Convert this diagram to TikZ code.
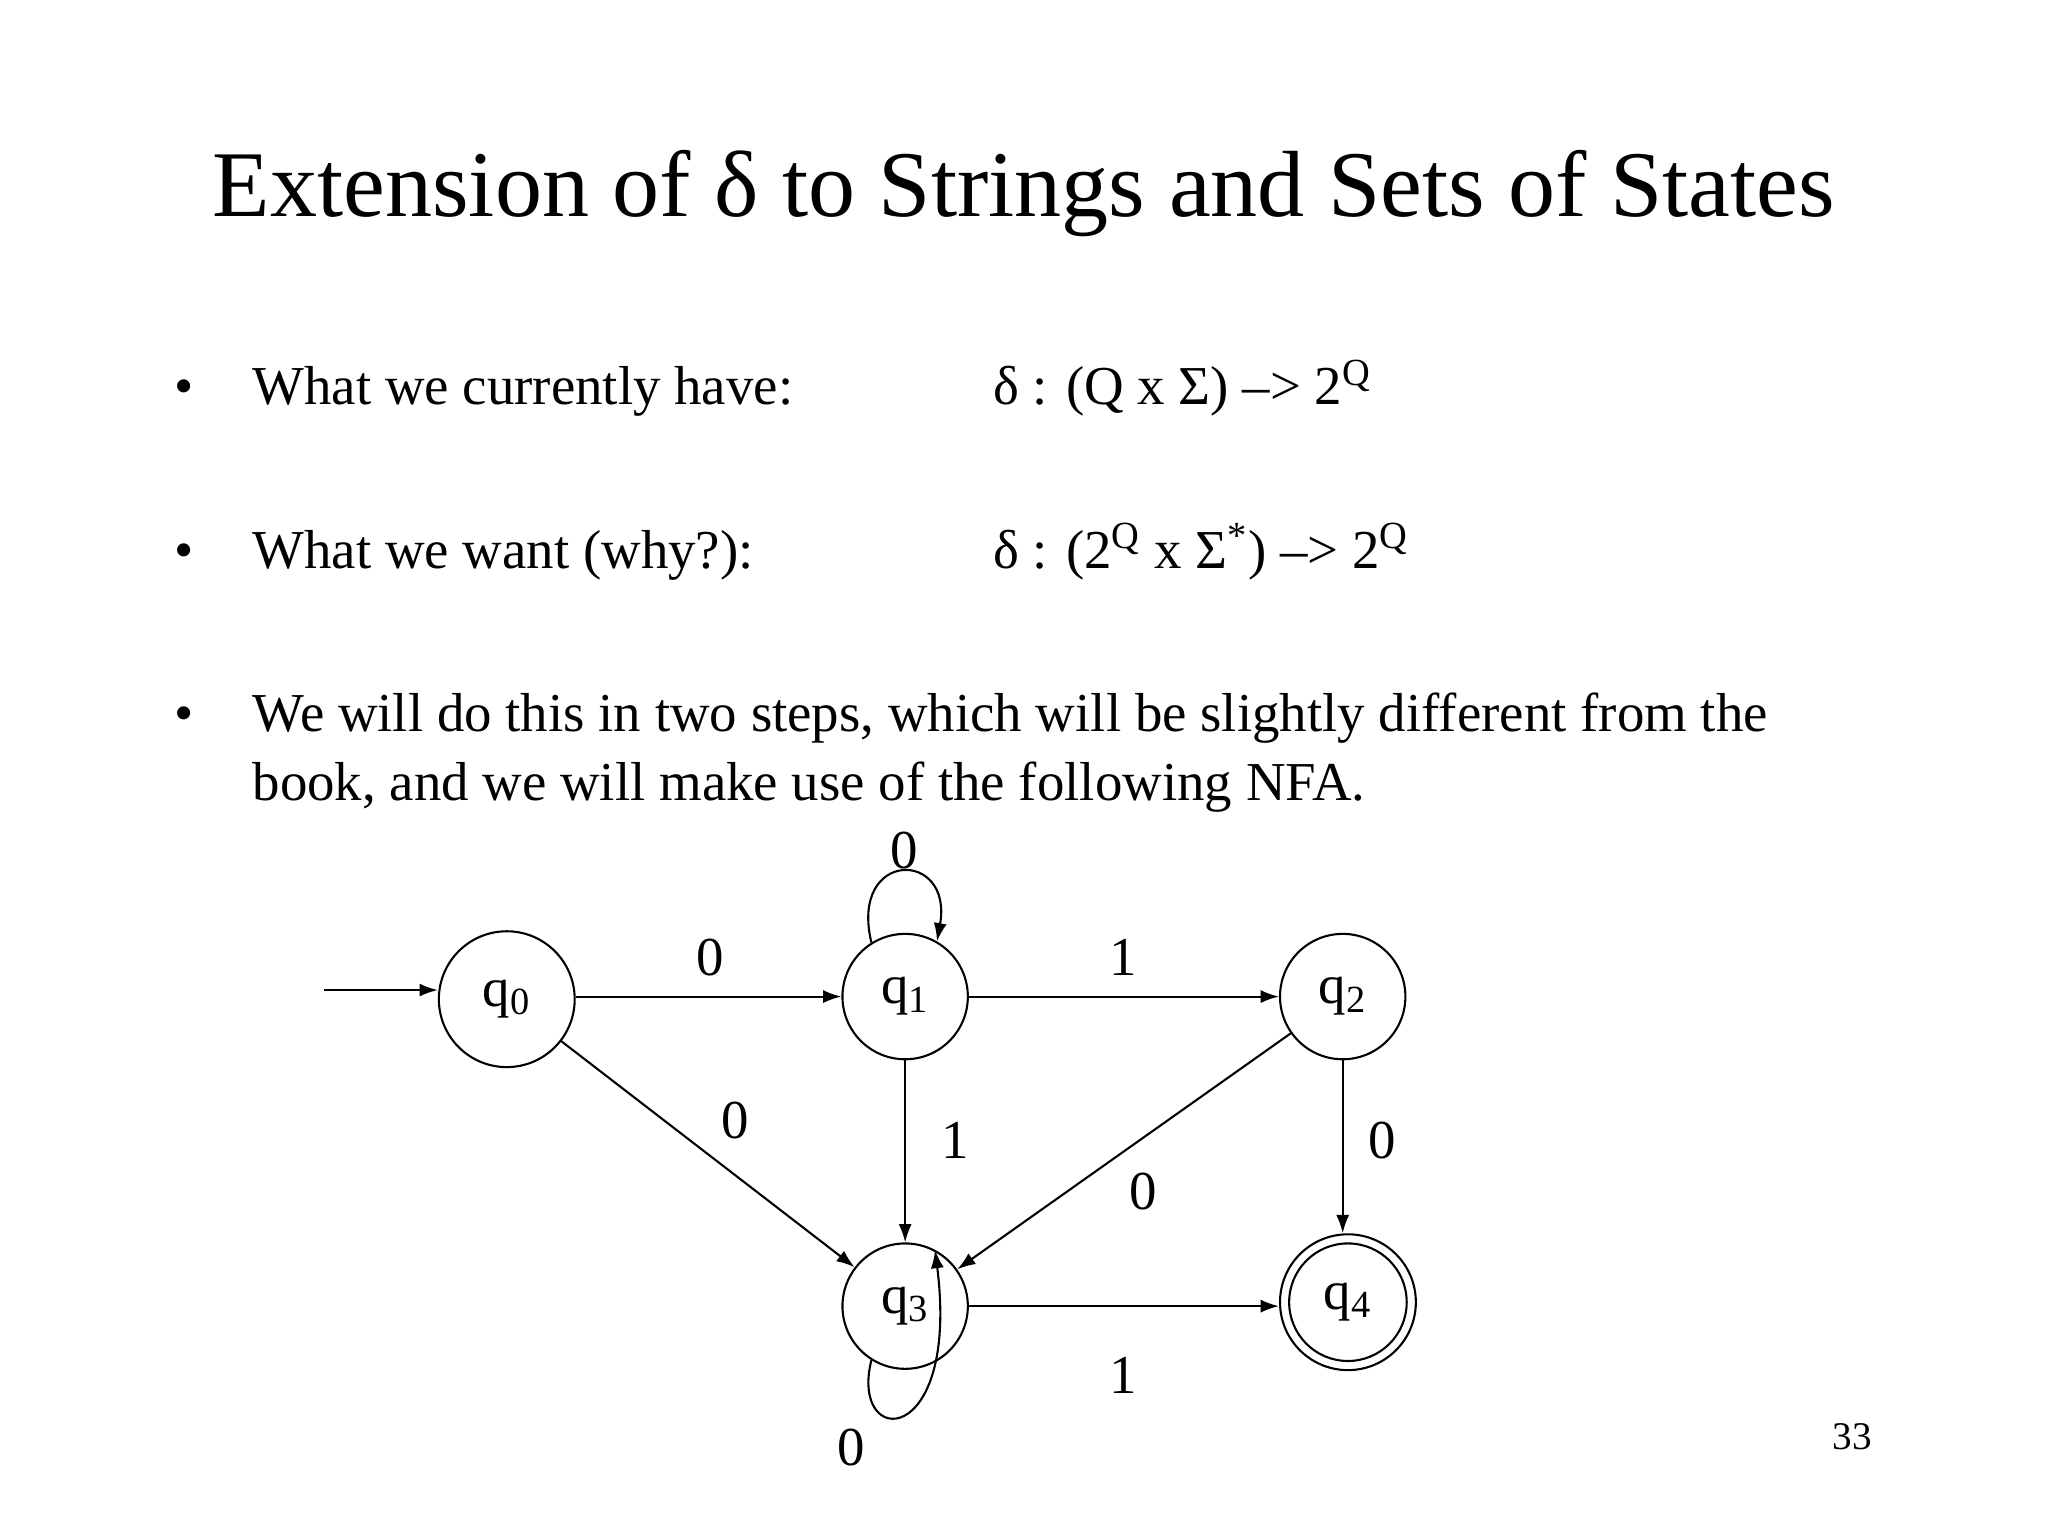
\documentclass[tikz,border=0pt]{standalone}
\usepackage{fontspec}
\setmainfont{Liberation Serif}
\usetikzlibrary{arrows.meta}
\begin{document}
\begin{tikzpicture}[x=0.5pt,y=-0.5pt,
  st/.style={circle,draw,line width=0.8pt,minimum size=96\unitlength,inner sep=0pt,font=\fontsize{21}{24}\selectfont},
  lbl/.style={font=\fontsize{21}{24}\selectfont},
  body/.style={font=\fontsize{21}{25}\selectfont,anchor=base west,inner sep=0pt},
  ed/.style={line width=0.8pt,-{Latex[length=7pt,width=5pt]}}]
\setlength{\unitlength}{0.5pt}
\useasboundingbox (0,0) rectangle (1568,1176);
\node[font=\fontsize{36}{40}\selectfont] (title) at (784,148) {Extension of δ to Strings and Sets of States};
\node[body] (b1) at (133,310) {•};
\node[body] (t1) at (193,310) {What we currently have:};
\node[body] (f1) at (760,310) {δ : (Q x Σ) –> 2\textsuperscript{Q}};
\node[body] (b2) at (133,435) {•};
\node[body] (t2) at (193,435) {What we want (why?):};
\node[body] (f2) at (760,435) {δ : (2\textsuperscript{Q} x Σ\textsuperscript{*}) –> 2\textsuperscript{Q}};
\node[body] (b3) at (133,560) {•};
\node[body] (t3) at (193,560) {We will do this in two steps, which will be slightly different from the};
\node[body] (t3b) at (193,613) {book, and we will make use of the following NFA.};

\node[st,minimum size=104\unitlength] (q0) at (388,765) {q\textsubscript{0}};
\node[st] (q1) at (693,763) {q\textsubscript{1}};
\node[st] (q2) at (1028,763) {q\textsubscript{2}};
\node[st] (q3) at (693,1000) {q\textsubscript{3}};
\node[st,minimum size=104\unitlength] (q4) at (1032,997) {};
\node[st,minimum size=90\unitlength] (q4i) at (1032,997) {q\textsubscript{4}};
\coordinate (s) at (248,758);

\draw[ed] (s) -- (q0.west|-s);
\draw[ed] (q0.east|-q1) -- (q1.west);
\draw[ed] (q1.east) -- (q2.west);
\draw[ed] (q0) -- (q3);
\draw[ed] (q1) -- (q3);
\draw[ed] (q2) -- (q3);
\draw[ed] (q2) -- (q2|-q4.north);
\draw[ed] (q3.east) -- (q4.west|-q3);
\draw[ed] (q1.122) .. controls (650,650) and (730,650) .. (q1.60);
\draw[ed] (q3.238) .. controls (650,1110) and (735,1110) .. (q3.62);

\node[lbl] (l1) at (544,733) {0};
\node[lbl] (l2) at (692,651) {0};
\node[lbl] (l3) at (860,733) {1};
\node[lbl] (l4) at (563,858) {0};
\node[lbl] (l5) at (731,873) {1};
\node[lbl] (l6) at (875,912) {0};
\node[lbl] (l7) at (1058,873) {0};
\node[lbl] (l8) at (860,1053) {1};
\node[lbl] (l9) at (652,1108) {0};
\node[font=\fontsize{15}{18}\selectfont] (pg) at (1418,1100) {33};
\end{tikzpicture}
\end{document}
